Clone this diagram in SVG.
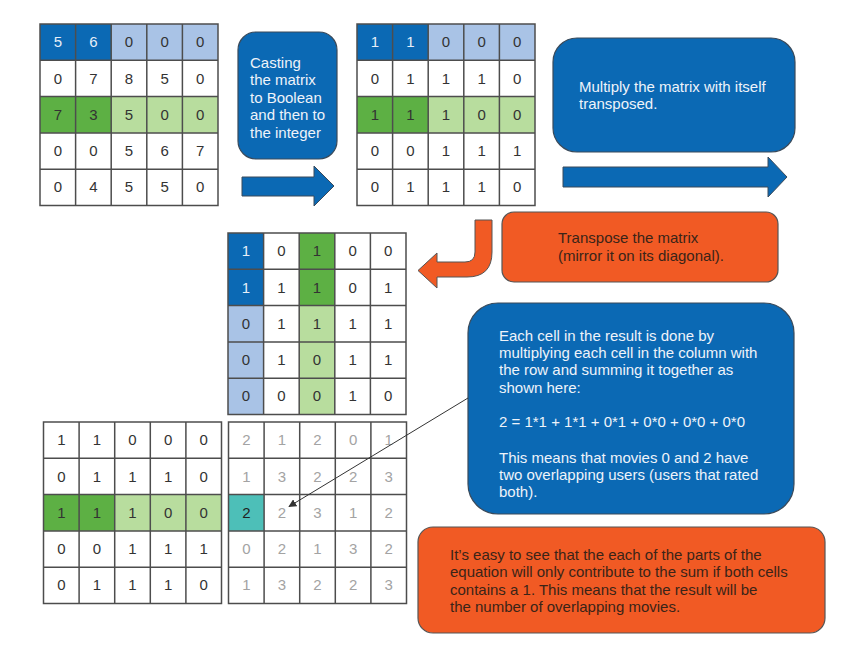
<svg xmlns="http://www.w3.org/2000/svg" width="851" height="647" viewBox="0 0 851 647">
<defs>
<style>
.db{fill:#0b69b4}.lb{fill:#a9c3e6}.dg{fill:#5db044}.lg{fill:#b8dd9e}.teal{fill:#4dbfb8}
.grid{fill:none;stroke:#4d4d4d;stroke-width:1.5}
.d{font-family:"Liberation Sans",Arial,sans-serif;font-size:15px;text-anchor:middle;fill:#333}
.dw{fill:#e6eef8}.dl{fill:#a3a3a3}
.bb{fill:#0b69b4;stroke:#3a4a5a;stroke-width:1.2}
.bo{fill:#f15a24;stroke:#555;stroke-width:1.2}
.t{font-family:"Liberation Sans",Arial,sans-serif;font-size:15px}
.tw{fill:#eef3fa}.tb{fill:#3a2418}
.arb{fill:#0b69b4;stroke:#3a4a5a;stroke-width:1}
.aro{fill:#f15a24;stroke:#555;stroke-width:1}
.ln{fill:none;stroke:#333;stroke-width:1}
</style>
<path id="g" d="M0 0H178V181.5H0Z M35.6 0V181.5 M71.2 0V181.5 M106.8 0V181.5 M142.4 0V181.5 M0 36.3H178 M0 72.6H178 M0 108.9H178 M0 145.2H178"/>
<marker id="ah" viewBox="0 0 10 10" refX="9" refY="5" markerWidth="8" markerHeight="8" orient="auto" markerUnits="userSpaceOnUse"><path d="M0 0L10 5L0 10Z" fill="#333"/></marker>
</defs>
<rect width="851" height="647" fill="#fff"/>

<g id="matrix-ratings" transform="translate(40,24)">
<rect class="db" x="0" y="0" width="71.2" height="36.3"/>
<rect class="lb" x="71.2" y="0" width="106.8" height="36.3"/>
<rect class="dg" x="0" y="72.6" width="71.2" height="36.3"/>
<rect class="lg" x="71.2" y="72.6" width="106.8" height="36.3"/>
<use href="#g" class="grid"/>
<g class="d">
<text x="17.8" y="23.2" class="dw">5</text><text x="53.4" y="23.2" class="dw">6</text><text x="89" y="23.2">0</text><text x="124.6" y="23.2">0</text><text x="160.2" y="23.2">0</text>
<text x="17.8" y="59.5">0</text><text x="53.4" y="59.5">7</text><text x="89" y="59.5">8</text><text x="124.6" y="59.5">5</text><text x="160.2" y="59.5">0</text>
<text x="17.8" y="95.8">7</text><text x="53.4" y="95.8">3</text><text x="89" y="95.8">5</text><text x="124.6" y="95.8">0</text><text x="160.2" y="95.8">0</text>
<text x="17.8" y="132.1">0</text><text x="53.4" y="132.1">0</text><text x="89" y="132.1">5</text><text x="124.6" y="132.1">6</text><text x="160.2" y="132.1">7</text>
<text x="17.8" y="168.4">0</text><text x="53.4" y="168.4">4</text><text x="89" y="168.4">5</text><text x="124.6" y="168.4">5</text><text x="160.2" y="168.4">0</text>
</g>
</g>

<g id="matrix-boolean" transform="translate(357,24)">
<rect class="db" x="0" y="0" width="71.2" height="36.3"/>
<rect class="lb" x="71.2" y="0" width="106.8" height="36.3"/>
<rect class="dg" x="0" y="72.6" width="71.2" height="36.3"/>
<rect class="lg" x="71.2" y="72.6" width="106.8" height="36.3"/>
<use href="#g" class="grid"/>
<g class="d">
<text x="17.8" y="23.2" class="dw">1</text><text x="53.4" y="23.2" class="dw">1</text><text x="89" y="23.2">0</text><text x="124.6" y="23.2">0</text><text x="160.2" y="23.2">0</text>
<text x="17.8" y="59.5">0</text><text x="53.4" y="59.5">1</text><text x="89" y="59.5">1</text><text x="124.6" y="59.5">1</text><text x="160.2" y="59.5">0</text>
<text x="17.8" y="95.8">1</text><text x="53.4" y="95.8">1</text><text x="89" y="95.8">1</text><text x="124.6" y="95.8">0</text><text x="160.2" y="95.8">0</text>
<text x="17.8" y="132.1">0</text><text x="53.4" y="132.1">0</text><text x="89" y="132.1">1</text><text x="124.6" y="132.1">1</text><text x="160.2" y="132.1">1</text>
<text x="17.8" y="168.4">0</text><text x="53.4" y="168.4">1</text><text x="89" y="168.4">1</text><text x="124.6" y="168.4">1</text><text x="160.2" y="168.4">0</text>
</g>
</g>

<g id="matrix-transposed" transform="translate(228,233)">
<rect class="db" x="0" y="0" width="35.6" height="72.6"/>
<rect class="lb" x="0" y="72.6" width="35.6" height="108.9"/>
<rect class="dg" x="71.2" y="0" width="35.6" height="72.6"/>
<rect class="lg" x="71.2" y="72.6" width="35.6" height="108.9"/>
<use href="#g" class="grid"/>
<g class="d">
<text x="17.8" y="23.2" class="dw">1</text><text x="53.4" y="23.2">0</text><text x="89" y="23.2">1</text><text x="124.6" y="23.2">0</text><text x="160.2" y="23.2">0</text>
<text x="17.8" y="59.5" class="dw">1</text><text x="53.4" y="59.5">1</text><text x="89" y="59.5">1</text><text x="124.6" y="59.5">0</text><text x="160.2" y="59.5">1</text>
<text x="17.8" y="95.8">0</text><text x="53.4" y="95.8">1</text><text x="89" y="95.8">1</text><text x="124.6" y="95.8">1</text><text x="160.2" y="95.8">1</text>
<text x="17.8" y="132.1">0</text><text x="53.4" y="132.1">1</text><text x="89" y="132.1">0</text><text x="124.6" y="132.1">1</text><text x="160.2" y="132.1">1</text>
<text x="17.8" y="168.4">0</text><text x="53.4" y="168.4">0</text><text x="89" y="168.4">0</text><text x="124.6" y="168.4">1</text><text x="160.2" y="168.4">0</text>
</g>
</g>

<g id="matrix-boolean-copy" transform="translate(43.5,422)">
<rect class="dg" x="0" y="72.6" width="71.2" height="36.3"/>
<rect class="lg" x="71.2" y="72.6" width="106.8" height="36.3"/>
<use href="#g" class="grid"/>
<g class="d">
<text x="17.8" y="23.2">1</text><text x="53.4" y="23.2">1</text><text x="89" y="23.2">0</text><text x="124.6" y="23.2">0</text><text x="160.2" y="23.2">0</text>
<text x="17.8" y="59.5">0</text><text x="53.4" y="59.5">1</text><text x="89" y="59.5">1</text><text x="124.6" y="59.5">1</text><text x="160.2" y="59.5">0</text>
<text x="17.8" y="95.8">1</text><text x="53.4" y="95.8">1</text><text x="89" y="95.8">1</text><text x="124.6" y="95.8">0</text><text x="160.2" y="95.8">0</text>
<text x="17.8" y="132.1">0</text><text x="53.4" y="132.1">0</text><text x="89" y="132.1">1</text><text x="124.6" y="132.1">1</text><text x="160.2" y="132.1">1</text>
<text x="17.8" y="168.4">0</text><text x="53.4" y="168.4">1</text><text x="89" y="168.4">1</text><text x="124.6" y="168.4">1</text><text x="160.2" y="168.4">0</text>
</g>
</g>

<g id="matrix-result" transform="translate(228.5,422)">
<rect class="teal" x="0" y="72.6" width="35.6" height="36.3"/>
<use href="#g" class="grid"/>
<g class="d dl">
<text x="17.8" y="23.2">2</text><text x="53.4" y="23.2">1</text><text x="89" y="23.2">2</text><text x="124.6" y="23.2">0</text><text x="160.2" y="23.2">1</text>
<text x="17.8" y="59.5">1</text><text x="53.4" y="59.5">3</text><text x="89" y="59.5">2</text><text x="124.6" y="59.5">2</text><text x="160.2" y="59.5">3</text>
<text x="53.4" y="95.8">2</text><text x="89" y="95.8">3</text><text x="124.6" y="95.8">1</text><text x="160.2" y="95.8">2</text>
<text x="17.8" y="132.1">0</text><text x="53.4" y="132.1">2</text><text x="89" y="132.1">1</text><text x="124.6" y="132.1">3</text><text x="160.2" y="132.1">2</text>
<text x="17.8" y="168.4">1</text><text x="53.4" y="168.4">3</text><text x="89" y="168.4">2</text><text x="124.6" y="168.4">2</text><text x="160.2" y="168.4">3</text>
</g>
<text x="17.8" y="95.8" class="d" style="fill:#222">2</text>
</g>

<g id="note-casting">
<rect class="bb" x="238" y="32" width="99" height="127" rx="18"/>
<text class="t tw" x="250" y="67.5">Casting</text>
<text class="t tw" x="250" y="85">the matrix</text>
<text class="t tw" x="250" y="102.5">to Boolean</text>
<text class="t tw" x="250" y="120">and then to</text>
<text class="t tw" x="250" y="137.5">the integer</text>
</g>

<g id="note-multiply">
<rect class="bb" x="553" y="38" width="242" height="114" rx="24"/>
<text class="t tw" x="579" y="92.3">Multiply the matrix with itself</text>
<text class="t tw" x="579" y="109.3">transposed.</text>
</g>

<g id="note-transpose">
<rect class="bo" x="502" y="212" width="276" height="70" rx="12"/>
<text class="t tb" x="558" y="242.7">Transpose the matrix</text>
<text class="t tb" x="558" y="261">(mirror it on its diagonal).</text>
</g>

<g id="note-each-cell">
<rect class="bb" x="468" y="303" width="326" height="211" rx="30"/>
<text class="t tw" x="499" y="340.7">Each cell in the result is done by</text>
<text class="t tw" x="499" y="358">multiplying each cell in the column with</text>
<text class="t tw" x="499" y="375.3">the row and summing it together as</text>
<text class="t tw" x="499" y="392.6">shown here:</text>
<text class="t tw" x="499" y="427.3">2 = 1*1 + 1*1 + 0*1 + 0*0 + 0*0 + 0*0</text>
<text class="t tw" x="499" y="462.7">This means that movies 0 and 2 have</text>
<text class="t tw" x="499" y="480">two overlapping users (users that rated</text>
<text class="t tw" x="499" y="497.3">both).</text>
</g>

<g id="note-easy">
<rect class="bo" x="418" y="527" width="407" height="106" rx="15"/>
<text class="t tb" x="450" y="560">It’s easy to see that the each of the parts of the</text>
<text class="t tb" x="450" y="577.3">equation will only contribute to the sum if both cells</text>
<text class="t tb" x="450" y="594.6">contains a 1. This means that the result will be</text>
<text class="t tb" x="450" y="611.9">the number of overlapping movies.</text>
</g>

<g id="connectors">
<path class="arb" d="M242 177H314V166L334 186L314 206V196H242Z"/>
<path class="arb" d="M563 167H768V157L787 177L768 197V187H563Z"/>
<path class="aro" d="M475 220H492V252Q492 277 467 277H437V288L418 270.5L437 253V262H465Q475 262 475 252Z"/>
<line class="ln" x1="468" y1="398" x2="289" y2="506.5" marker-end="url(#ah)"/>
</g>
</svg>
